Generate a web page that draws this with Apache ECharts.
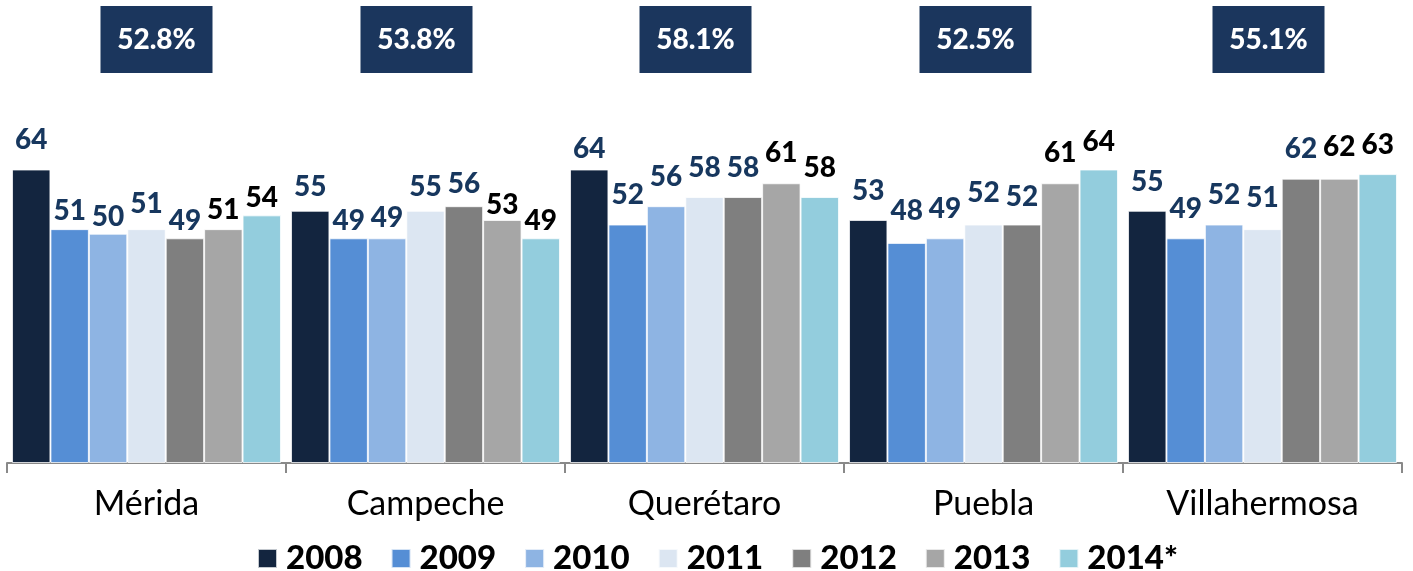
<!DOCTYPE html>
<html>
<head>
<meta charset="utf-8">
<script src="https://cdn.jsdelivr.net/npm/echarts@6/dist/echarts.min.js"></script>
<style>
  html, body { margin: 0; padding: 0; background: #fff; }
  #chart { width: 1413px; height: 571px; }
</style>
</head>
<body>
<div id="chart"></div>
<script>
// Cities and yearly values
const cities = ['Mérida', 'Campeche', 'Querétaro', 'Puebla', 'Villahermosa'];
const years = ['2008', '2009', '2010', '2011', '2012', '2013', '2014*'];
const v2008 = [64, 55, 64, 53, 55];
const v2009 = [51, 49, 52, 48, 49];
const v2010 = [50, 49, 56, 49, 52];
const v2011 = [51, 55, 58, 52, 51];
const v2012 = [49, 56, 58, 52, 62];
const v2013 = [51, 53, 61, 61, 62];
const v2014 = [54, 49, 58, 64, 63];
// Summary percentage shown above each city
const cityShare = ['52.8%', '53.8%', '58.1%', '52.5%', '55.1%'];

const seriesValues = [v2008, v2009, v2010, v2011, v2012, v2013, v2014];

// Styling
const barColors = ['#13253F', '#558ED5', '#8EB4E3', '#DCE6F2', '#7F7F7F', '#A6A6A6', '#93CDDD'];
const labelColors = ['#17375E', '#17375E', '#17375E', '#17375E', '#17375E', '#000000', '#000000'];
// space between each bar top and its value label, per series then per city
const labelGap = [
  [22, 16, 13, 21, 21],
  [10, 9, 22, 24, 21],
  [9, 12, 21, 21, 22],
  [17, 16, 21, 24, 23],
  [9, 14, 21, 20, 22],
  [11, 7, 22, 22, 24],
  [9, 9, 21, 20, 21]
];
// horizontal nudge of the summary boxes from each city's centre
const boxShift = [10, -9, -9, -8, 6];

const FONT = 'Lato, "Open Sans", sans-serif';

const chart = echarts.init(document.getElementById('chart'), null, { renderer: 'canvas' });

const series = years.map((y, s) => ({
  name: y,
  type: 'bar',
  barGap: '0%',
  barCategoryGap: '3.6%',
  itemStyle: { color: barColors[s], borderColor: 'rgba(255,255,255,0.75)', borderWidth: 1 },
  data: seriesValues[s].map((v, c) => ({
    value: v,
    label: { distance: labelGap[s][c] - 6 }
  })),
  label: {
    show: true,
    position: 'top',
    fontFamily: FONT,
    fontWeight: 900,
    fontSize: 28,
    color: labelColors[s]
  }
}));

chart.setOption({
  animation: false,
  backgroundColor: '#fff',
  grid: { left: 7, right: 11, top: 142, bottom: 108, containLabel: false },
  xAxis: {
    type: 'category',
    data: cities,
    axisLine: { lineStyle: { color: '#898989', width: 2 } },
    axisTick: { show: true, length: 10, lineStyle: { color: '#898989', width: 2 } },
    axisLabel: { fontFamily: FONT, fontSize: 34, color: '#000', margin: 24 }
  },
  yAxis: {
    type: 'value',
    min: 0,
    max: 70,
    show: false,
    splitLine: { show: false }
  },
  legend: {
    data: years,
    left: 252,
    top: 537,
    itemWidth: 19,
    itemHeight: 19,
    itemGap: 28,
    icon: 'rect',
    textStyle: { fontFamily: FONT, fontWeight: 900, fontSize: 33, color: '#000', padding: [0, 0, 0, 4] }
  },
  series: series
});

// Summary boxes above each city group
const boxW = 112, boxH = 67, boxTop = 6;
const graphics = cities.map((c, i) => {
  const cx = chart.convertToPixel({ xAxisIndex: 0 }, i) + boxShift[i];
  return {
    type: 'group',
    children: [
      { type: 'rect', shape: { x: cx - boxW / 2, y: boxTop, width: boxW, height: boxH }, style: { fill: '#1B365D' } },
      { type: 'text', x: cx, y: boxTop + boxH / 2, style: {
          text: cityShare[i], fill: '#fff', font: '900 28px ' + FONT, align: 'center', verticalAlign: 'middle'
        } }
    ]
  };
});
chart.setOption({ graphic: graphics });
</script>
</body>
</html>
